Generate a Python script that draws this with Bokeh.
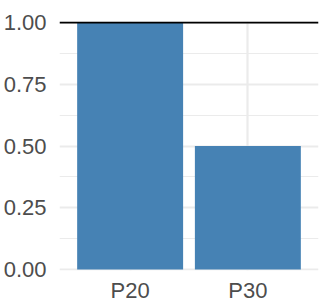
from bokeh.plotting import figure
from bokeh.models import Range1d, FactorRange, FixedTicker, Span, ColumnDataSource
from bokeh.embed import file_html
from bokeh.resources import INLINE

categories = ["P20", "P30"]
values = [1.00, 0.50]
y_ticks = [0.0, 0.25, 0.5, 0.75, 1.0]
y_tick_labels = ["0.00", "0.25", "0.50", "0.75", "1.00"]
y_minor_ticks = [0.125, 0.375, 0.625, 0.875]
ref_line = 1.0

src = ColumnDataSource(dict(cat=categories, val=values))

p = figure(
    width=320, height=305,
    x_range=FactorRange(*categories, range_padding=0.1, range_padding_units="absolute"),
    y_range=Range1d(-0.004, 1.004),
    output_backend="svg", toolbar_location=None,
    min_border_left=0, min_border_right=2, min_border_top=21, min_border_bottom=0,
)
p.outline_line_color = None
p.background_fill_color = "white"
p.border_fill_color = "white"

p.vbar(x="cat", top="val", bottom=0, width=0.9, source=src,
       fill_color="#4682B4", line_color=None)

p.add_layout(Span(location=ref_line, dimension="width", line_color="black", line_width=2.2))

p.yaxis.ticker = FixedTicker(ticks=y_ticks, minor_ticks=y_minor_ticks)
p.yaxis.major_label_overrides = {t: l for t, l in zip(y_ticks, y_tick_labels)}

for ax in (p.xaxis[0], p.yaxis[0]):
    ax.axis_line_color = None
    ax.major_tick_line_color = None
    ax.minor_tick_line_color = None
    ax.major_tick_out = 0
    ax.major_tick_in = 0
    ax.minor_tick_out = 0
    ax.major_label_text_font = "Liberation Sans"
    ax.major_label_text_font_size = "22px"
    ax.major_label_text_color = "#4D4D4D"
p.yaxis.major_label_standoff = 13
p.xaxis.major_label_standoff = 7

p.xgrid.grid_line_color = "#EBEBEB"
p.xgrid.grid_line_width = 2.2
p.ygrid.grid_line_color = "#EBEBEB"
p.ygrid.grid_line_width = 2.2
p.ygrid.minor_grid_line_color = "#EBEBEB"
p.ygrid.minor_grid_line_width = 1.1

open("out.html", "w").write(file_html(p, INLINE))
